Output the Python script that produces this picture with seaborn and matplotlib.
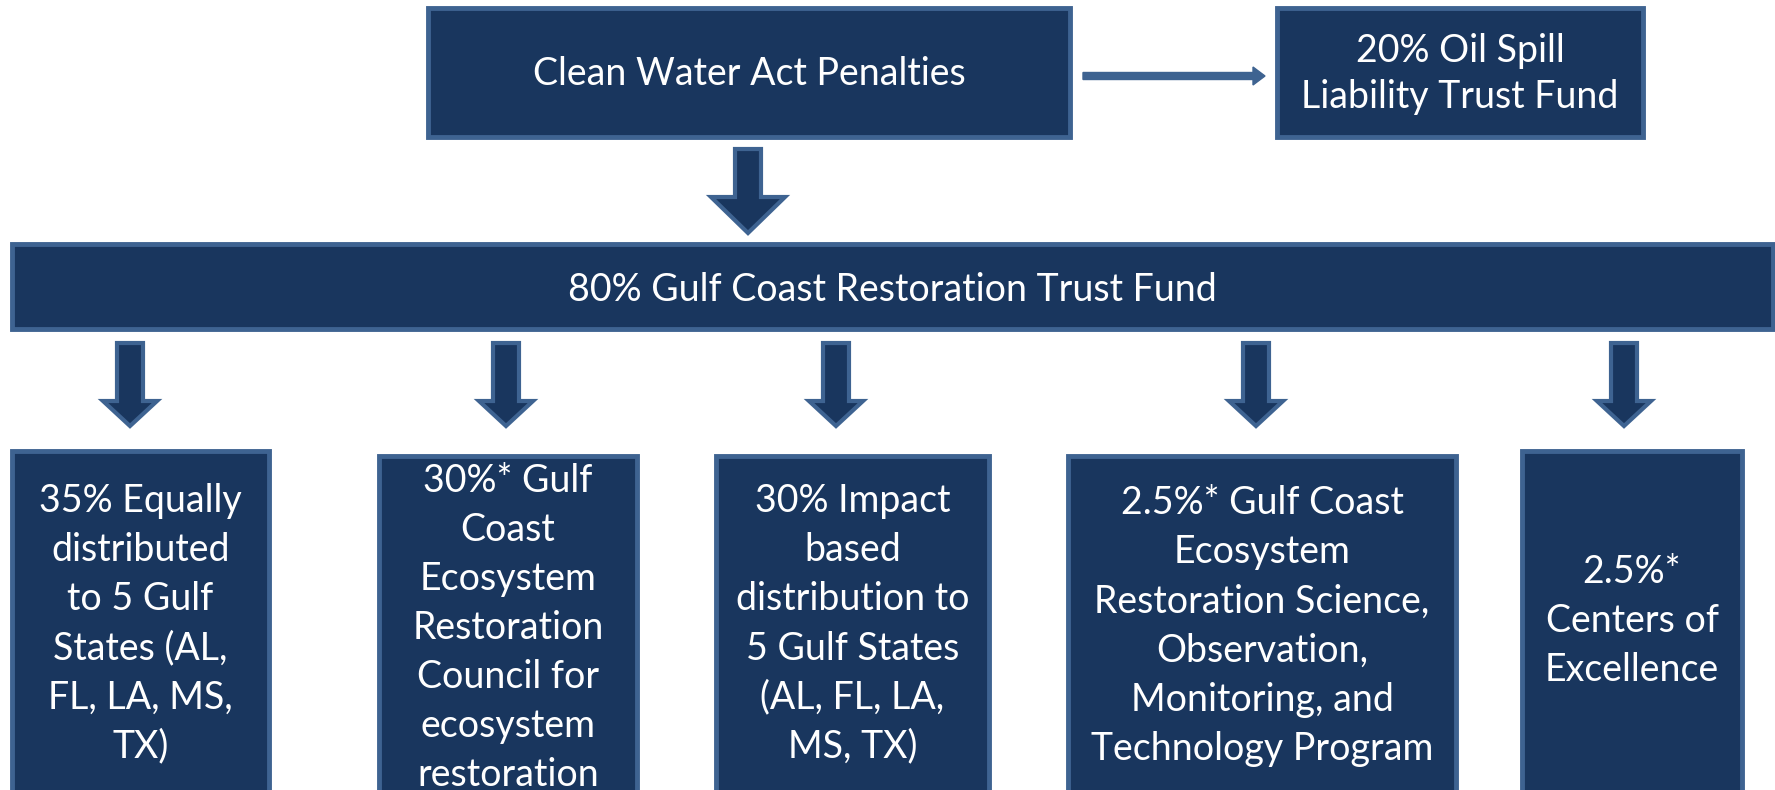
import numpy as np
import seaborn as sns
import matplotlib.pyplot as plt
from matplotlib.patches import Rectangle, Polygon, FancyArrow

# text of each node in the flow
source_label = "Clean Water Act Penalties"
side_label = "20% Oil Spill\nLiability Trust Fund"
trust_label = "80% Gulf Coast Restoration Trust Fund"
split_labels = [
    "35% Equally\ndistributed\nto 5 Gulf\nStates (AL,\nFL, LA, MS,\nTX)",
    "30%* Gulf\nCoast\nEcosystem\nRestoration\nCouncil for\necosystem\nrestoration",
    "30% Impact\nbased\ndistribution to\n5 Gulf States\n(AL, FL, LA,\nMS, TX)",
    "2.5%* Gulf Coast\nEcosystem\nRestoration Science,\nObservation,\nMonitoring, and\nTechnology Program",
    "2.5%*\nCenters of\nExcellence",
]
split_shares = [35, 30, 30, 2.5, 2.5]

FILL = "#19365e"
EDGE = "#3e6391"
W, H = 1775, 790

sns.set_style("white")
plt.rcParams["font.family"] = ["Lato", "DejaVu Sans"]

fig = plt.figure(figsize=(W / 100, H / 100), dpi=100)
ax = fig.add_axes([0, 0, 1, 1])
ax.set_xlim(0, W)
ax.set_ylim(H, 0)
ax.axis("off")


def box(x0, y0, x1, y1, text, ty=None, fs=27, ls=1.45):
    ax.add_patch(Rectangle((x0, y0), x1 - x0, y1 - y0, facecolor=FILL,
                           edgecolor=EDGE, lw=3.5, zorder=2))
    if ty is None:
        ty = (y0 + y1) / 2
    ax.text((x0 + x1) / 2, ty, text, color="white", fontsize=fs,
            ha="center", va="center", linespacing=ls, zorder=3)


def down_arrow(cx, top, head_top, tip, shaft_w, head_w):
    pts = [(cx - shaft_w / 2, top), (cx + shaft_w / 2, top),
           (cx + shaft_w / 2, head_top), (cx + head_w / 2, head_top),
           (cx, tip), (cx - head_w / 2, head_top), (cx - shaft_w / 2, head_top)]
    ax.add_patch(Polygon(pts, closed=True, facecolor=FILL, edgecolor=EDGE,
                         lw=3, joinstyle="miter", zorder=2))


# top row
box(428, 8, 1070, 137, source_label, ty=74)
box(1277, 8, 1643, 137, side_label, ty=74, ls=1.32)
ax.add_patch(FancyArrow(1083, 76, 182, 0, width=7, head_width=18,
                        head_length=12, length_includes_head=True,
                        color=EDGE, zorder=2))

down_arrow(748, 149, 197, 233, 26, 74)

# trust fund bar
box(12, 244, 1773, 329, trust_label, ty=290)

# split boxes
box_x = [(12, 269), (379, 637), (716, 989), (1068, 1456), (1522, 1742)]
box_top = [451, 456, 456, 456, 451]
text_y = [624, 628, 624, 626, 621]
arrow_cx = [130, 506, 836, 1256, 1624]

for share, label, (x0, x1), top, ty, cx in zip(split_shares, split_labels, box_x,
                                                box_top, text_y, arrow_cx):
    down_arrow(cx, 343, 401, 426, 26, 54)
    box(x0, top, x1, H + 20, label, ty=ty)

fig.savefig("out.png", dpi=100, facecolor="white")
